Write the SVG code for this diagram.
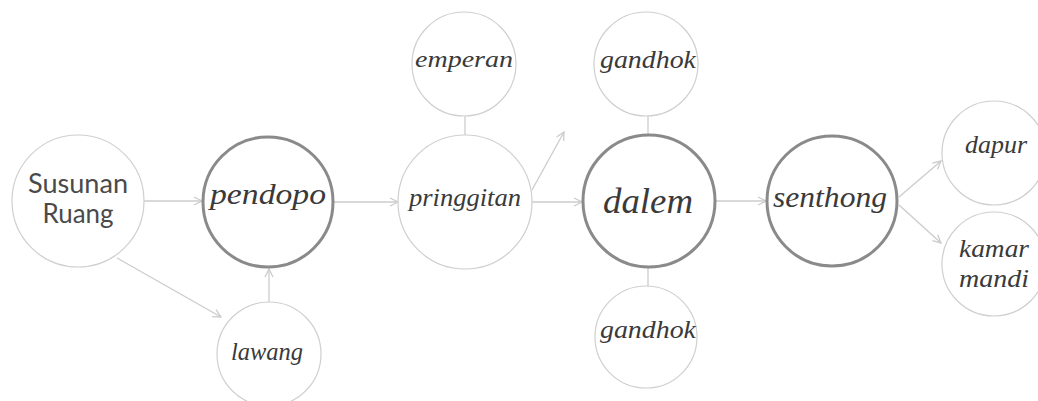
<svg xmlns="http://www.w3.org/2000/svg" width="1038" height="401" viewBox="0 0 1038 401">
<style>
.thin{fill:#fff;stroke:#cfcfcf;stroke-width:1.2}
.thick{fill:#fff;stroke:#8a8a8a;stroke-width:3}
.conn{stroke:#cccccc;stroke-width:1.3;fill:none}
.script{font-family:"Liberation Serif","DejaVu Serif",serif;font-style:italic;fill:#3a3a3a;text-anchor:middle}
.sans{font-family:"Lato","Noto Sans",sans-serif;fill:#4a4a4a;text-anchor:middle;font-size:26px}
</style>
<defs>
<marker id="arr" viewBox="0 0 10 10" refX="9" refY="5" markerWidth="10" markerHeight="10" markerUnits="userSpaceOnUse" orient="auto">
<path d="M1,1 L9,5 L1,9" fill="none" stroke="#cccccc" stroke-width="1.3"/>
</marker>
</defs>
<rect width="1038" height="401" fill="#fff"/>
<g id="connectors">
<line class="conn" x1="144" y1="201" x2="202" y2="201" marker-end="url(#arr)"/>
<line class="conn" x1="117" y1="258" x2="221" y2="317" marker-end="url(#arr)"/>
<line class="conn" x1="269" y1="302" x2="269" y2="269" marker-end="url(#arr)"/>
<line class="conn" x1="334" y1="202" x2="398" y2="202" marker-end="url(#arr)"/>
<line class="conn" x1="465" y1="116" x2="465" y2="135"/>
<line class="conn" x1="532" y1="190" x2="564" y2="132" marker-end="url(#arr)"/>
<line class="conn" x1="532" y1="202" x2="582" y2="202" marker-end="url(#arr)"/>
<line class="conn" x1="648" y1="116" x2="648" y2="135"/>
<line class="conn" x1="648" y1="267" x2="648" y2="287"/>
<line class="conn" x1="716" y1="201" x2="766" y2="201" marker-end="url(#arr)"/>
<line class="conn" x1="899" y1="197" x2="941" y2="161" marker-end="url(#arr)"/>
<line class="conn" x1="899" y1="205" x2="941" y2="243" marker-end="url(#arr)"/>
</g>
<g id="susunan-ruang">
<circle class="thin" cx="78" cy="201" r="66"/>
<text class="sans" x="78" y="193" textLength="100" lengthAdjust="spacingAndGlyphs">Susunan</text>
<text class="sans" x="78" y="223" textLength="71" lengthAdjust="spacingAndGlyphs">Ruang</text>
</g>
<g id="pendopo">
<circle class="thick" cx="268" cy="202" r="65"/>
<text class="script" x="268" y="204" font-size="30" textLength="116" lengthAdjust="spacingAndGlyphs">pendopo</text>
</g>
<g id="lawang">
<circle class="thin" cx="269" cy="354" r="52"/>
<text class="script" x="267" y="360" font-size="26" textLength="72" lengthAdjust="spacingAndGlyphs">lawang</text>
</g>
<g id="emperan">
<circle class="thin" cx="464" cy="64" r="52"/>
<text class="script" x="464" y="67" font-size="24" textLength="98" lengthAdjust="spacingAndGlyphs">emperan</text>
</g>
<g id="pringgitan">
<circle class="thin" cx="465" cy="202" r="67"/>
<text class="script" x="465" y="206" font-size="26" textLength="112" lengthAdjust="spacingAndGlyphs">pringgitan</text>
</g>
<g id="gandhok-top">
<circle class="thin" cx="646" cy="64" r="52"/>
<text class="script" x="648" y="68" font-size="26" textLength="96" lengthAdjust="spacingAndGlyphs">gandhok</text>
</g>
<g id="dalem">
<circle class="thick" cx="649" cy="201" r="66"/>
<text class="script" x="648" y="213" font-size="36" textLength="90" lengthAdjust="spacingAndGlyphs">dalem</text>
</g>
<g id="gandhok-bottom">
<circle class="thin" cx="646" cy="337" r="51"/>
<text class="script" x="648" y="338" font-size="26" textLength="96" lengthAdjust="spacingAndGlyphs">gandhok</text>
</g>
<g id="senthong">
<circle class="thick" cx="832" cy="201" r="65"/>
<text class="script" x="830" y="207" font-size="30" textLength="114" lengthAdjust="spacingAndGlyphs">senthong</text>
</g>
<g id="dapur">
<circle class="thin" cx="994" cy="153" r="52"/>
<text class="script" x="996" y="153" font-size="26" textLength="62" lengthAdjust="spacingAndGlyphs">dapur</text>
</g>
<g id="kamar-mandi">
<circle class="thin" cx="994" cy="264" r="52"/>
<text class="script" x="994" y="257" font-size="26" textLength="70" lengthAdjust="spacingAndGlyphs">kamar</text>
<text class="script" x="994" y="287" font-size="26" textLength="70" lengthAdjust="spacingAndGlyphs">mandi</text>
</g>
</svg>
